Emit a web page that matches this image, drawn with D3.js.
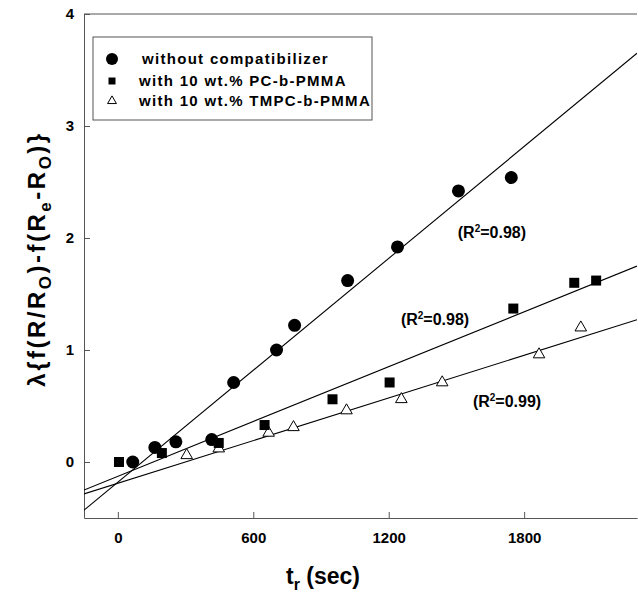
<!DOCTYPE html>
<html>
<head>
<meta charset="utf-8">
<script src="https://cdn.jsdelivr.net/npm/d3@7"></script>
<style>
  body { margin: 0; background: #fff; }
  text { font-family: "Liberation Sans", Arial, sans-serif; font-weight: bold; }
</style>
</head>
<body>
<svg id="chart" width="638" height="595"></svg>
<script>
// t_r in sec, y = lambda{...}
const noCompT = [66, 164, 257, 416, 513, 703, 783, 1018, 1239, 1509, 1743]
const noCompY = [0.0, 0.13, 0.18, 0.20, 0.71, 1.00, 1.22, 1.62, 1.92, 2.42, 2.54]

const pcT = [5, 195, 447, 650, 951, 1204, 1752, 2022, 2119]
const pcY = [0.0, 0.08, 0.17, 0.33, 0.56, 0.71, 1.37, 1.60, 1.62]

const tmpcT = [305, 447, 668, 778, 1013, 1256, 1437, 1866, 2051]
const tmpcY = [0.06, 0.12, 0.26, 0.31, 0.46, 0.56, 0.71, 0.96, 1.20]

// fitted lines: y = intercept + slope * t
const fitSlope = [0.001665, 0.000816, 0.000635]
const fitIntercept = [-0.18, -0.128, -0.19]

const fitLabels = ["0.98", "0.98", "0.99"]
const fitLabelPos = [[1506, 2.0], [1254, 1.22], [1573, 0.49]]

const legendNames = ["without compatibilizer", "with 10 wt.% PC-b-PMMA", "with 10 wt.% TMPC-b-PMMA"]

const xTicks = [0, 600, 1200, 1800]
const yTicks = [0, 1, 2, 3, 4]

const layout = {left: 84, right: 637, top: 14, bottom: 518}

const svg = d3.select("#chart")

const x = d3.scaleLinear().domain([-150, 2300]).range([layout.left, layout.right])
const y = d3.scaleLinear().domain([-0.5, 4]).range([layout.bottom, layout.top])

svg.append("clipPath").attr("id", "plotClip")
   .append("rect")
   .attr("x", layout.left).attr("y", layout.top)
   .attr("width", layout.right - layout.left)
   .attr("height", layout.bottom - layout.top)

// frame top line
svg.append("line")
   .attr("x1", layout.left).attr("x2", layout.right)
   .attr("y1", layout.top).attr("y2", layout.top)
   .attr("stroke", "#555")

const xAxis = svg.append("g")
   .attr("transform", `translate(0,${layout.bottom})`)
   .call(d3.axisBottom(x).tickValues(xTicks).tickFormat(d3.format("d"))
     .tickSizeInner(-6).tickSizeOuter(0).tickPadding(14))
const yAxis = svg.append("g")
   .attr("transform", `translate(${layout.left},0)`)
   .call(d3.axisLeft(y).tickValues(yTicks).tickFormat(d3.format("d"))
     .tickSizeInner(-6).tickSizeOuter(0).tickPadding(10))

for (const ax of [xAxis, yAxis]) {
  ax.select(".domain").attr("stroke", "#555")
  ax.selectAll(".tick line").attr("stroke", "#555")
  ax.selectAll(".tick text").style("font-size", "15px").attr("fill", "#000")
}

// fitted lines
const plot = svg.append("g").attr("clip-path", "url(#plotClip)")
const xDom = x.domain()
plot.selectAll(".fit")
    .data(fitSlope.map((s, i) => ({s, b: fitIntercept[i]})))
    .join("line")
    .attr("class", "fit")
    .attr("x1", x(xDom[0])).attr("y1", d => y(d.b + d.s * xDom[0]))
    .attr("x2", x(xDom[1])).attr("y2", d => y(d.b + d.s * xDom[1]))
    .attr("stroke", "#000").attr("stroke-width", 1.1)

const tri = d3.symbol().type(d3.symbolTriangle).size(58)

plot.selectAll(".tmpc")
    .data(tmpcT.map((t, i) => [t, tmpcY[i]]))
    .join("path")
    .attr("class", "tmpc")
    .attr("transform", d => `translate(${x(d[0])},${y(d[1])})`)
    .attr("d", tri)
    .attr("fill", "#fff").attr("stroke", "#000").attr("stroke-width", 1)

plot.selectAll(".pc")
    .data(pcT.map((t, i) => [t, pcY[i]]))
    .join("rect")
    .attr("class", "pc")
    .attr("x", d => x(d[0]) - 5).attr("y", d => y(d[1]) - 5)
    .attr("width", 10).attr("height", 10)
    .attr("fill", "#000")

plot.selectAll(".nocomp")
    .data(noCompT.map((t, i) => [t, noCompY[i]]))
    .join("circle")
    .attr("class", "nocomp")
    .attr("cx", d => x(d[0])).attr("cy", d => y(d[1]))
    .attr("r", 6.5)
    .attr("fill", "#000")

// R^2 labels
const rl = svg.selectAll(".rlab")
    .data(fitLabels.map((v, i) => ({v, p: fitLabelPos[i]})))
    .join("text")
    .attr("class", "rlab")
    .attr("x", d => x(d.p[0])).attr("y", d => y(d.p[1]))
    .style("font-size", "16px")
rl.append("tspan").text("(R")
rl.append("tspan").attr("dy", -6).style("font-size", "10px").text("2")
rl.append("tspan").attr("dy", 6).text(d => "=" + d.v + ")")

// legend
const lg = svg.append("g")
lg.append("rect")
  .attr("x", 93).attr("y", 37).attr("width", 279).attr("height", 83)
  .attr("fill", "#fff").attr("stroke", "#555")
const rowY = [59, 81, 101]
lg.append("circle").attr("cx", 112).attr("cy", rowY[0]).attr("r", 6).attr("fill", "#000")
lg.append("rect").attr("x", 108.5).attr("y", rowY[1] - 3.5).attr("width", 7).attr("height", 7).attr("fill", "#000")
lg.append("path").attr("transform", `translate(112,${rowY[2]})`)
  .attr("d", d3.symbol().type(d3.symbolTriangle).size(34))
  .attr("fill", "#fff").attr("stroke", "#000")
lg.selectAll(".lgtext")
  .data(legendNames)
  .join("text")
  .attr("class", "lgtext")
  .attr("x", (d, i) => i === 0 ? 142 : 139)
  .attr("y", (d, i) => rowY[i] + 5)
  .style("font-size", "15px")
  .style("letter-spacing", "1.3px")
  .text(d => d)

// x axis title
const xt = svg.append("text")
  .attr("x", 323).attr("y", 584)
  .attr("text-anchor", "middle")
  .style("font-size", "23px")
xt.append("tspan").text("t")
xt.append("tspan").attr("dy", 6).style("font-size", "16px").text("r")
xt.append("tspan").attr("dy", -6).text(" (sec)")

// y axis title
const yt = svg.append("text")
  .attr("transform", "translate(45,259) rotate(-90)")
  .attr("text-anchor", "middle")
  .style("font-size", "24px")
  .style("letter-spacing", "2.5px")
const ySegs = [["λ{f(R/R", 0], ["O", 1], [")-f(R", 0], ["e", 1], ["-R", 0], ["O", 1], [")}", 0]]
let prevSub = 0
ySegs.forEach(([s, sub]) => {
  const t = yt.append("tspan").text(s)
  if (sub !== prevSub) t.attr("dy", sub ? 6 : -6)
  if (sub) t.style("font-size", "17px")
  prevSub = sub
})
</script>
</body>
</html>
